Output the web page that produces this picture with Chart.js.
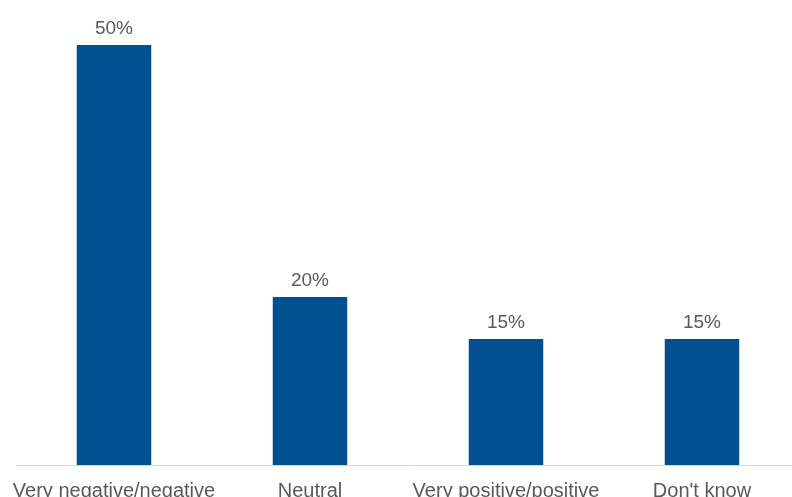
<!DOCTYPE html>
<html>
<head>
<meta charset="utf-8">
<script src="https://cdn.jsdelivr.net/npm/chart.js@4/dist/chart.umd.min.js"></script>
<style>
  html, body { margin: 0; padding: 0; background: #ffffff; overflow: hidden; }
  #wrap { width: 800px; height: 497px; position: relative; }
</style>
</head>
<body>
<div id="wrap"><canvas id="c"></canvas></div>
<script>
const categories = ['Very negative/negative', 'Neutral', 'Very positive/positive', "Don't know"];
const shares = [50, 20, 15, 15];

// Percentage labels above each bar
const valueLabels = {
  id: 'valueLabels',
  afterDatasetsDraw(chart) {
    const ctx = chart.ctx;
    ctx.save();
    ctx.font = '19px "Liberation Sans", Arial, sans-serif';
    ctx.fillStyle = '#595959';
    ctx.textAlign = 'center';
    ctx.textBaseline = 'alphabetic';
    chart.getDatasetMeta(0).data.forEach((bar, i) => {
      ctx.fillText(shares[i] + '%', bar.x, bar.y - 11);
    });
    ctx.restore();
  }
};

new Chart(document.getElementById('c'), {
  type: 'bar',
  data: {
    labels: categories,
    datasets: [{
      data: shares,
      backgroundColor: '#02508f',
      barPercentage: 0.38,
      categoryPercentage: 1.0
    }]
  },
  options: {
    responsive: true,
    maintainAspectRatio: false,
    animation: false,
    layout: { padding: { top: 45, left: 16, right: 0, bottom: 0 } },
    plugins: { legend: { display: false }, tooltip: { enabled: false } },
    scales: {
      x: {
        grid: { display: false, drawTicks: false },
        border: { display: true, color: '#d9d9d9', width: 1 },
        ticks: {
          color: '#595959',
          font: { family: '"Liberation Sans", Arial, sans-serif', size: 20 },
          padding: 14,
          maxRotation: 0,
          autoSkip: false
        },
        afterFit(scale) {
          scale.height = 32;
          scale.paddingLeft = 0;
          scale.paddingRight = 0;
        }
      },
      y: {
        display: false,
        min: 0,
        max: 50
      }
    }
  },
  plugins: [valueLabels]
});
</script>
</body>
</html>
